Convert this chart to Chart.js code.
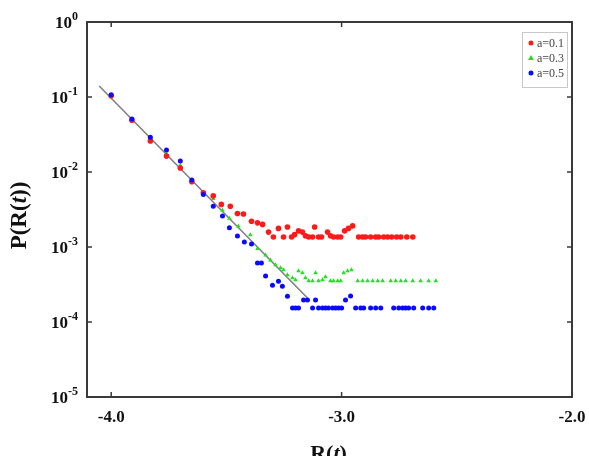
<!DOCTYPE html>
<html>
<head>
<meta charset="utf-8">
<script src="https://cdn.jsdelivr.net/npm/chart.js@4.4.0/dist/chart.umd.min.js"></script>
<style>
html, body { margin: 0; padding: 0; background: #fff; }
#wrap { width: 589px; height: 456px; }
</style>
</head>
<body>
<div id="wrap"><canvas id="chart" width="589" height="456"></canvas></div>
<script>
// tick positions
const xTicks = [-4.0, -3.0, -2.0];
const xTickLabels = ['-4.0', '-3.0', '-2.0'];
const yExponents = [0, -1, -2, -3, -4, -5];

const seriesLabels = ['a=0.1', 'a=0.3', 'a=0.5'];

// a=0.1 (red)
const redX = [-4.00, -3.91, -3.83, -3.76, -3.70, -3.65, -3.60,
    -3.557, -3.522, -3.483, -3.452, -3.426, -3.391, -3.365, -3.343,
    -3.317, -3.296, -3.274, -3.252, -3.235, -3.217, -3.204, -3.187, -3.170, -3.157, -3.143, -3.126,
    -3.117, -3.100, -3.087, -3.061, -3.048, -3.035, -3.017, -3.004, -2.987, -2.970, -2.952,
    -2.926, -2.909, -2.896, -2.874, -2.852, -2.839, -2.817, -2.800, -2.783, -2.761, -2.743, -2.717, -2.691];
const redY = [0.104, 0.049, 0.026, 0.0163, 0.0113, 0.0074, 0.0053,
    0.0048, 0.0037, 0.0035, 0.0028, 0.00275, 0.0022, 0.0021, 0.0020,
    0.00158, 0.00136, 0.00177, 0.00136, 0.00185, 0.00136, 0.00146, 0.00164, 0.00158, 0.00141, 0.00136, 0.00136,
    0.00185, 0.00136, 0.00136, 0.00158, 0.00141, 0.00136, 0.00136, 0.00136, 0.00164, 0.00177, 0.00191,
    0.00136, 0.00136, 0.00136, 0.00136, 0.00136, 0.00136, 0.00136, 0.00136, 0.00136, 0.00136, 0.00136, 0.00136, 0.00136];

// a=0.3 (green)
const greenX = [-4.00, -3.91, -3.83, -3.76, -3.70, -3.65, -3.60,
    -3.557, -3.517, -3.487, -3.448, -3.396, -3.365,
    -3.330, -3.309, -3.287, -3.265, -3.252, -3.235, -3.213, -3.200, -3.187, -3.170, -3.157, -3.143,
    -3.126, -3.113, -3.100, -3.083, -3.070, -3.048, -3.035, -3.017, -3.004, -2.991, -2.974, -2.957,
    -2.930, -2.909, -2.887, -2.865, -2.843, -2.822, -2.787, -2.765, -2.743, -2.722, -2.691, -2.657, -2.622, -2.591];
const greenY = [0.105, 0.050, 0.027, 0.0175, 0.0122, 0.0076, 0.0052,
    0.0044, 0.0031, 0.0024, 0.0019, 0.00145, 0.00095,
    0.00078, 0.00067, 0.000575, 0.000525, 0.000494, 0.000423, 0.000386, 0.000363, 0.000479, 0.00045, 0.000386, 0.000352,
    0.000352, 0.00045, 0.000352, 0.000363, 0.0004, 0.000352, 0.000352, 0.000352, 0.000352, 0.00045, 0.000479, 0.000494,
    0.000352, 0.000352, 0.000352, 0.000352, 0.000352, 0.000352, 0.000352, 0.000352, 0.000352, 0.000352, 0.000352, 0.000352, 0.000352, 0.000352];

// a=0.5 (blue)
const blueX = [-4.00, -3.91, -3.83, -3.76, -3.70, -3.65, -3.60,
    -3.557, -3.517, -3.487, -3.452, -3.422, -3.391, -3.365, -3.348,
    -3.330, -3.300, -3.274, -3.257, -3.235,
    -3.213, -3.200, -3.187, -3.165, -3.148, -3.126, -3.113, -3.100, -3.083, -3.070, -3.057, -3.039, -3.026, -3.013, -3.000, -2.983, -2.961,
    -2.939, -2.917, -2.904, -2.874, -2.852, -2.830, -2.774, -2.752, -2.735, -2.722, -2.709, -2.687, -2.648, -2.622, -2.600];
const blueY = [0.107, 0.051, 0.029, 0.0196, 0.014, 0.0078, 0.0050,
    0.0035, 0.0026, 0.0018, 0.0014, 0.00117, 0.0011, 0.00061, 0.00061,
    0.00041, 0.00031, 0.00035, 0.0003, 0.00022,
    0.000154, 0.000154, 0.000154, 0.000197, 0.000197, 0.000154, 0.000197, 0.000154, 0.000154, 0.000154, 0.000154, 0.000154, 0.000154, 0.000154, 0.000154, 0.000197, 0.000222,
    0.000154, 0.000154, 0.000154, 0.000154, 0.000154, 0.000154, 0.000154, 0.000154, 0.000154, 0.000154, 0.000154, 0.000154, 0.000154, 0.000154, 0.000154];

// fitted power-law line
const fitX = [-4.052, -3.148];
const fitY = [0.140, 0.000209];

const COLORS = { red: '#ff1a1a', green: '#22e022', blue: '#0a0aff', fit: '#808080', frame: '#3a3a3a' };
const SERIF = '"Liberation Serif", "Times New Roman", serif';

const toPoints = (xs, ys) => xs.map((x, i) => ({ x: x, y: ys[i] }));

// frame, inward ticks, labels, titles and legend
const decorPlugin = {
    id: 'decor',
    afterDraw(chart) {
        const { ctx, chartArea: a, scales } = chart;
        const xs = scales.x, ys = scales.y;
        ctx.save();

        ctx.strokeStyle = COLORS.frame;
        ctx.lineWidth = 2;
        ctx.strokeRect(a.left, a.top, a.right - a.left, a.bottom - a.top);

        ctx.lineWidth = 1.5;
        ctx.beginPath();
        xTicks.forEach(v => {
            const px = xs.getPixelForValue(v);
            ctx.moveTo(px, a.bottom); ctx.lineTo(px, a.bottom - 5);
            ctx.moveTo(px, a.top); ctx.lineTo(px, a.top + 5);
        });
        yExponents.forEach(e => {
            const py = ys.getPixelForValue(Math.pow(10, e));
            ctx.moveTo(a.left, py); ctx.lineTo(a.left + 5, py);
            ctx.moveTo(a.right, py); ctx.lineTo(a.right - 5, py);
        });
        ctx.stroke();

        // x tick labels
        ctx.fillStyle = '#111';
        ctx.font = 'bold 17px ' + SERIF;
        ctx.textAlign = 'center';
        ctx.textBaseline = 'middle';
        xTicks.forEach((v, i) => {
            ctx.fillText(xTickLabels[i], xs.getPixelForValue(v), a.bottom + 21);
        });

        // y tick labels 10^e
        ctx.textAlign = 'left';
        ctx.textBaseline = 'alphabetic';
        yExponents.forEach(e => {
            const py = ys.getPixelForValue(Math.pow(10, e));
            ctx.font = 'bold 17px ' + SERIF;
            const wb = ctx.measureText('10').width;
            ctx.font = 'bold 12px ' + SERIF;
            const es = e === 0 ? '0' : '-' + Math.abs(e);
            const we = ctx.measureText(es).width;
            const x0 = a.left - 9 - wb - we;
            ctx.font = 'bold 17px ' + SERIF;
            ctx.fillText('10', x0, py + 6);
            ctx.font = 'bold 12px ' + SERIF;
            ctx.fillText(es, x0 + wb, py - 2);
        });

        // axis titles with italic t
        const drawParts = (parts, cx, cy, size) => {
            let total = 0;
            parts.forEach(p => { ctx.font = p[1] + ' ' + size + 'px ' + SERIF; total += ctx.measureText(p[0]).width; });
            let cur = cx - total / 2;
            parts.forEach(p => {
                ctx.font = p[1] + ' ' + size + 'px ' + SERIF;
                ctx.fillText(p[0], cur, cy);
                cur += ctx.measureText(p[0]).width;
            });
        };
        ctx.fillStyle = '#111';
        drawParts([['R(', 'bold'], ['t', 'italic bold'], [')', 'bold']], (a.left + a.right) / 2 - 1, a.bottom + 63, 22);

        ctx.save();
        ctx.translate(26, (a.top + a.bottom) / 2 + 6);
        ctx.rotate(-Math.PI / 2);
        drawParts([['P(R(', 'bold'], ['t', 'italic bold'], ['))', 'bold']], 0, 0, 23);
        ctx.restore();

        // legend box
        const lx = 522, ly = 32, lw = 45, lh = 55;
        ctx.fillStyle = '#fff';
        ctx.fillRect(lx, ly, lw, lh);
        ctx.strokeStyle = '#c8c8c8';
        ctx.lineWidth = 1;
        ctx.strokeRect(lx + 0.5, ly + 0.5, lw, lh);
        const legendColors = [COLORS.red, COLORS.green, COLORS.blue];
        ctx.font = '12px ' + SERIF;
        ctx.textBaseline = 'middle';
        seriesLabels.forEach((lab, i) => {
            const cy = ly + 11 + i * 15;
            ctx.fillStyle = legendColors[i];
            ctx.beginPath();
            if (i === 1) {
                ctx.moveTo(lx + 9, cy - 3); ctx.lineTo(lx + 12, cy + 2); ctx.lineTo(lx + 6, cy + 2); ctx.closePath();
            } else {
                ctx.arc(lx + 9, cy, 2.5, 0, Math.PI * 2);
            }
            ctx.fill();
            ctx.fillStyle = '#444';
            ctx.fillText(lab, lx + 15, cy + 1);
        });

        ctx.restore();
    }
};

new Chart(document.getElementById('chart'), {
    type: 'scatter',
    data: {
        datasets: [
            {
                label: seriesLabels[2],
                data: toPoints(blueX, blueY),
                backgroundColor: COLORS.blue,
                borderColor: COLORS.blue,
                pointStyle: 'circle',
                pointRadius: 2.5,
                borderWidth: 0,
                order: 1
            },
            {
                label: seriesLabels[0],
                data: toPoints(redX, redY),
                backgroundColor: COLORS.red,
                borderColor: COLORS.red,
                pointStyle: 'circle',
                pointRadius: 2.8,
                borderWidth: 0,
                order: 2
            },
            {
                label: seriesLabels[1],
                data: toPoints(greenX, greenY),
                backgroundColor: COLORS.green,
                borderColor: COLORS.green,
                pointStyle: 'triangle',
                pointRadius: 2.7,
                borderWidth: 0,
                order: 3
            },
            {
                label: 'fit',
                type: 'line',
                data: toPoints(fitX, fitY),
                borderColor: COLORS.fit,
                borderWidth: 1.6,
                pointRadius: 0,
                fill: false,
                order: 4
            }
        ]
    },
    options: {
        responsive: false,
        animation: false,
        layout: { padding: { left: 87, top: 22, right: 17, bottom: 59 } },
        plugins: { legend: { display: false }, tooltip: { enabled: false } },
        scales: {
            x: { type: 'linear', min: -4.105, max: -2.0, display: false },
            y: { type: 'logarithmic', min: 1e-5, max: 1, display: false }
        }
    },
    plugins: [decorPlugin]
});
</script>
</body>
</html>
